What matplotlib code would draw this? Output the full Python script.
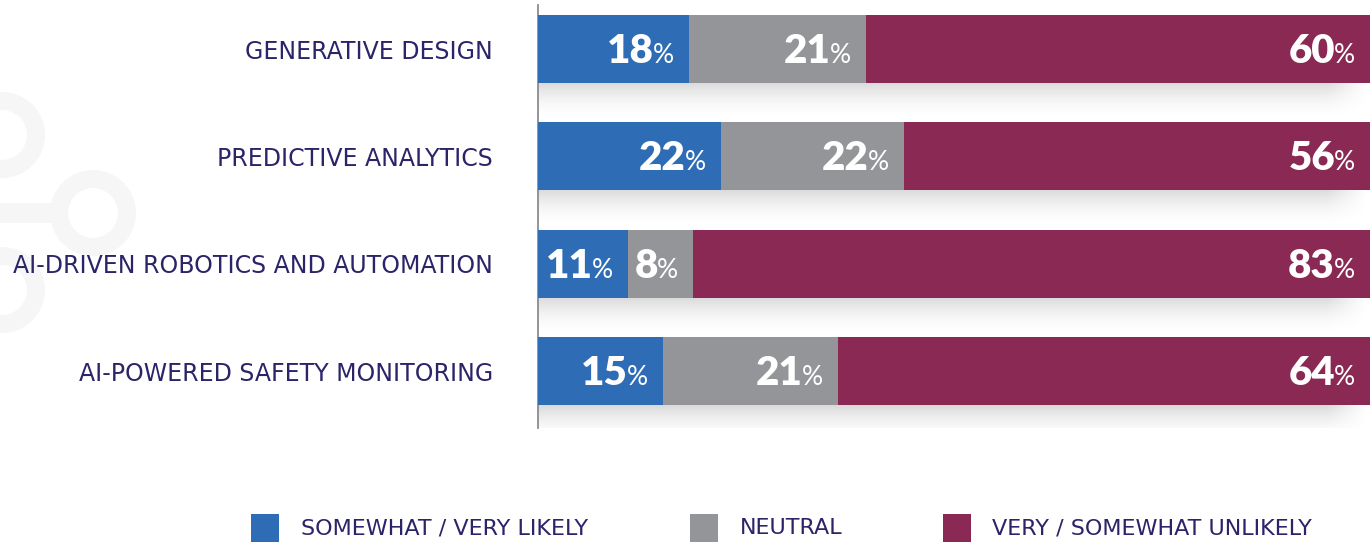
import numpy as np
import matplotlib
matplotlib.use('Agg')
import matplotlib.pyplot as plt
from matplotlib.patches import Circle, Rectangle
from matplotlib.transforms import IdentityTransform

categories = ['GENERATIVE DESIGN', 'PREDICTIVE ANALYTICS',
              'AI-DRIVEN ROBOTICS AND AUTOMATION', 'AI-POWERED SAFETY MONITORING']
likely = [18, 22, 11, 15]
neutral = [21, 22, 8, 21]
unlikely = [60, 56, 83, 64]
series_names = ['SOMEWHAT / VERY LIKELY', 'NEUTRAL', 'VERY / SOMEWHAT UNLIKELY']
colors = ['#2e6cb5', '#939598', '#8a2953']
navy = '#2b2468'

W, H = 1372, 543
fig = plt.figure(figsize=(W / 100, H / 100), dpi=100)

# faint ring decoration on the left (display pixels, origin bottom-left)
deco = '#f6f6f6'
ring = dict(fill=False, lw=18 * 0.72, ec=deco, transform=IdentityTransform(), zorder=-5)
for cx, cy in [(2, 135), (93, 213), (2, 290)]:
    fig.add_artist(Circle((cx, H - cy), 34, **ring))
fig.add_artist(Rectangle((0, H - 223), 52, 20, fc=deco, ec='none',
                         transform=IdentityTransform(), zorder=-5))

ax = fig.add_axes([538 / W, (H - 428) / H, 832 / W, 423 / H])
ax.patch.set_alpha(0)

data = np.array([likely, neutral, unlikely], dtype=float)
shares = data / data.sum(axis=0) * 100
y = np.arange(len(categories))
bar_h = 0.634

left = np.zeros(len(categories))
for k in range(3):
    ax.barh(y, shares[k], left=left, height=bar_h, color=colors[k], zorder=3)
    left += shares[k]

# soft drop shadow under each bar
sh_h = 40 / 107.3
t = np.linspace(0, 1, 60)[:, None]
xs = np.linspace(0, 1, 200)[None, :]
alpha = 0.15 * (1 - t) ** 2 * np.clip((1 - xs) / 0.05, 0, 1)
shadow = np.zeros((60, 200, 4))
shadow[..., 3] = alpha
for yi in y:
    top = yi + bar_h / 2
    ax.imshow(shadow, extent=[0, 100, top + sh_h, top], aspect='auto',
              origin='upper', zorder=1, interpolation='bilinear')

ax.set_xlim(0, 100)
ax.set_ylim(3.531, -0.41)

# value labels: heavy number + light percent sign
fig.canvas.draw()
renderer = fig.canvas.get_renderer()
px = 0.72
left = np.zeros(len(categories))
for k in range(3):
    for i in y:
        end = left[i] + shares[k][i]
        pct = ax.annotate('%', xy=(end, i), xytext=(-15 * px, -14 * px),
                          textcoords='offset points', ha='right', va='baseline',
                          fontsize=19, color='white', family='Lato', zorder=5)
        w = pct.get_window_extent(renderer).width
        ax.annotate(f'{int(data[k][i])}', xy=(end, i),
                    xytext=(-(15 + w - 1) * px, -14 * px),
                    textcoords='offset points', ha='right', va='baseline',
                    fontsize=29, fontweight='heavy', color='white',
                    family='Lato', zorder=5)
    left += shares[k]

ax.set_yticks(y)
ax.set_yticklabels(categories, fontsize=17, color=navy, family='DejaVu Sans')
ax.tick_params(axis='y', length=0, pad=45 * px)
ax.set_xticks([])
for s in ['top', 'right', 'bottom']:
    ax.spines[s].set_visible(False)
ax.spines['left'].set_color('#8c8c8c')
ax.spines['left'].set_linewidth(1.3)

# legend row along the bottom
for name, col, sx, tx in zip(series_names, colors, [251, 690, 943], [301, 740, 992]):
    fig.add_artist(Rectangle((sx, H - 542), 28, 28, fc=col, ec='none',
                             transform=IdentityTransform()))
    fig.text(tx / W, (H - 528) / H, name, fontsize=16, color=navy,
             va='center', ha='left', family='DejaVu Sans')

fig.savefig('out.png', dpi=100)
